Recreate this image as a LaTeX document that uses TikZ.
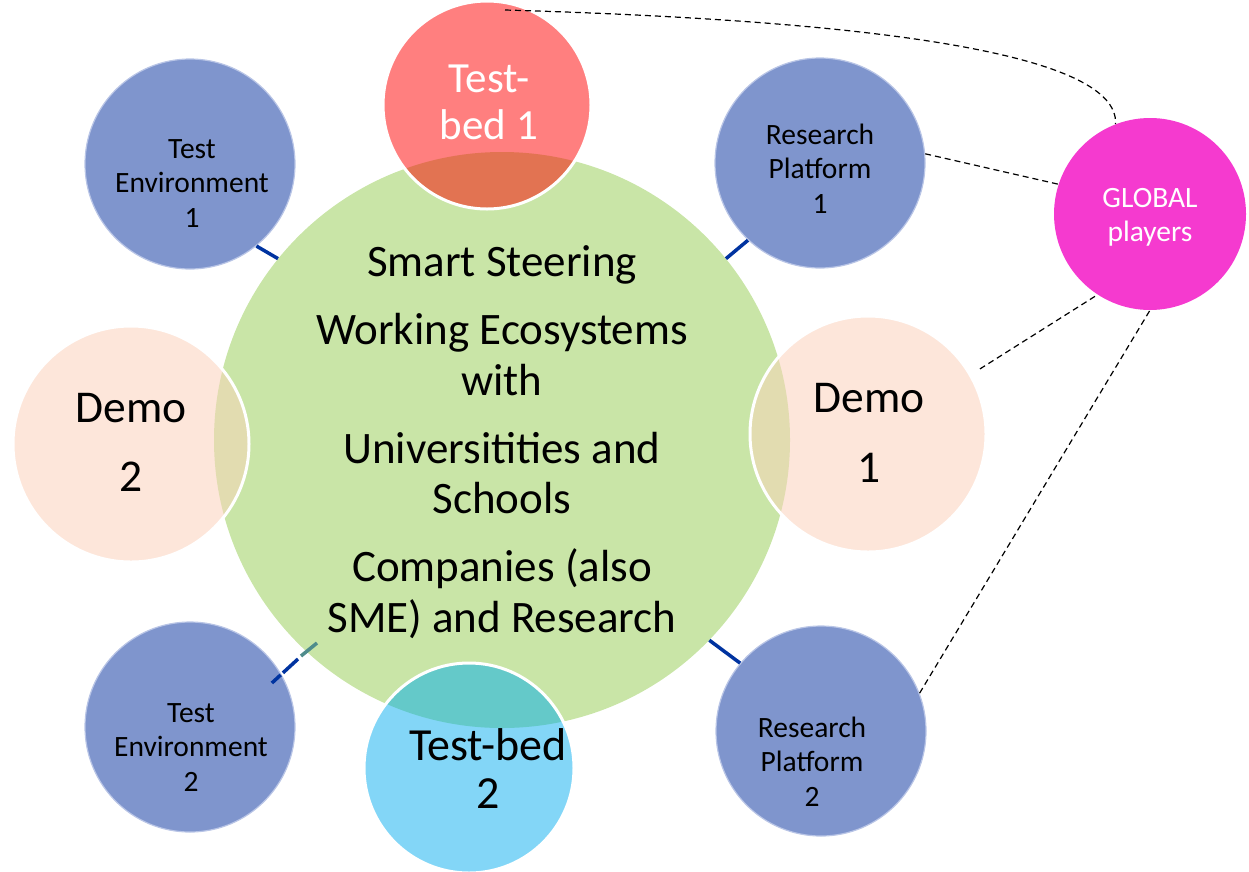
\documentclass[tikz,border=0pt]{standalone}
\usepackage{fontspec}
\setmainfont{Carlito}
\usetikzlibrary{calc}
\definecolor{cgreen}{HTML}{C9E5A7}
\definecolor{cblue}{HTML}{7F95CD}
\definecolor{cbluehalo}{HTML}{B9C5E6}
\definecolor{cred}{HTML}{FF7F7F}
\definecolor{credov}{HTML}{E27352}
\definecolor{ccyan}{HTML}{83D6F7}
\definecolor{ccyanov}{HTML}{64C9C9}
\definecolor{cpeach}{HTML}{FDE6DA}
\definecolor{cpeachov}{HTML}{E2DCB0}
\definecolor{cmag}{HTML}{F53ACF}
\definecolor{cconn}{HTML}{0033A0}
\definecolor{cteal}{HTML}{4F8C8C}
\begin{document}
\begin{tikzpicture}[x=1pt,y=-1pt,
  disc/.style={circle, inner sep=0pt, minimum size=#1},
  bluedisc/.style={disc=210pt, fill=cblue, draw=cbluehalo, line width=1.2pt},
  ovdisc/.style 2 args={fill=#1, draw=white, line width=3pt,
    path picture={\fill[#2] (main.center) circle (288pt);}},
  conn/.style={draw=cconn, line width=3.5pt},
  glink/.style={draw=black, line width=1.2pt, dash pattern=on 6pt off 4pt},
  txt/.style={align=center, anchor=base, inner sep=0pt},
  small/.style={txt, font=\fontsize{29.5}{34.5}\selectfont},
  demotxt/.style={txt, font=\fontsize{45.5}{69.5}\selectfont}
]
\useasboundingbox (0,0) rectangle (1249,871);

% central ecosystem
\node[disc=576pt, fill=cgreen] (main) at (502,440) {};

% blue satellites and global players
\node[bluedisc] (te1) at (190,164) {};
\node[bluedisc] (rp1) at (820,163) {};
\node[bluedisc] (te2) at (190,727) {};
\node[bluedisc] (rp2) at (821,731) {};
\node[disc=192pt, fill=cmag] (gl) at (1150,214) {};

% solid connectors
\draw[conn] (te1.-51) -- (main.141);
\draw[conn] (rp1.227) -- (main.39);
\draw[conn] (rp2.140) -- (main.-44);
\coordinate (te2m) at (298,659);
\coordinate (te2n) at (301,656);
\coordinate (te2e) at (317,643);
\draw[conn, shorten <=-13pt, dash pattern=on 12pt off 3pt on 60pt] (te2.30) -- (te2m);
\draw[conn, draw=cteal] (te2n) -- (te2e);

% overlapping discs
\node[disc=208pt, ovdisc={cred}{credov}] (tb1) at (487,105) {};
\node[disc=210pt, ovdisc={ccyan}{ccyanov}] (tb2) at (469,768) {};
\node[disc=236pt, ovdisc={cpeach}{cpeachov}] (d2) at (131,444) {};
\node[disc=236pt, ovdisc={cpeach}{cpeachov}] (d1) at (868,434) {};

% dashed links to global players
\coordinate (tb1top) at ($(tb1.center)+(18,-95)$);
\draw[glink] (tb1top) .. controls (850,20) and (1120,50) .. (gl.111);
\draw[glink] (rp1.5) -- (gl.162);
\draw[glink, shorten <=10pt] (d1.30) -- (gl.237);
\draw[glink] (rp2.21) -- (gl.-90);

% texts (anchor = baseline of the last line)
\node[txt, font=\fontsize{45}{50.5}\selectfont] (mt) at (502,632)
  {Smart Steering\\[17.5pt]Working Ecosystems\\with\\[17.5pt]Universitities and\\Schools\\[17.5pt]Companies (also\\SME) and Research};
\node[small] (te1t) at (192,227) {Test\\Environment\\1};
\node[small] (rp1t) at (820,213) {Research\\Platform\\1};
\node[small] (te2t) at (191,791) {Test\\Environment\\2};
\node[small] (rp2t) at (812,806) {Research\\Platform\\2};
\node[small, text=white] (glt) at (1150,241.5) {GLOBAL\\players};
\node[txt, text=white, font=\fontsize{43}{47}\selectfont] (tb1t) at (489,139) {Test-\\bed 1};
\node[txt, font=\fontsize{46}{48}\selectfont] (tb2t) at (488,808) {Test-bed\\2};
\node[demotxt] (d2t) at (131,491.5) {Demo\\2};
\node[demotxt] (d1t) at (869,482) {Demo\\1};
\end{tikzpicture}
\end{document}
